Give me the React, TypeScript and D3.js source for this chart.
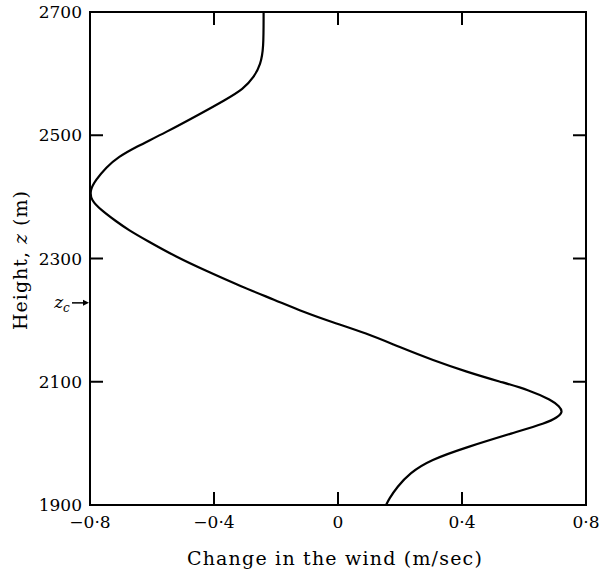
import React from "react";
import * as d3 from "d3";

const heights = [2700, 2640, 2615, 2595, 2575, 2557, 2536, 2504, 2481, 2465, 2448, 2427, 2411, 2395, 2379, 2360, 2346, 2330, 2302, 2281, 2254, 2233, 2213, 2197, 2179, 2156, 2135, 2116, 2100, 2087, 2070, 2060, 2051, 2042, 2033, 2017, 1994, 1973, 1952, 1929, 1910, 1900];
const windChange = [-0.24, -0.24, -0.25, -0.27, -0.305, -0.365, -0.44, -0.558, -0.652, -0.708, -0.748, -0.782, -0.8, -0.797, -0.765, -0.715, -0.675, -0.62, -0.52, -0.43, -0.31, -0.205, -0.11, -0.02, 0.09, 0.2, 0.306, 0.416, 0.523, 0.615, 0.69, 0.714, 0.726, 0.707, 0.672, 0.565, 0.416, 0.297, 0.232, 0.19, 0.165, 0.155];
const xTicks = [-0.8, -0.4, 0, 0.4, 0.8];
const xTickLabels = ["\u22120\u00b78", "\u22120\u00b74", "0", "0\u00b74", "0\u00b78"];
const yTicks = [1900, 2100, 2300, 2500, 2700];
const yTickLabels = ["1900", "2100", "2300", "2500", "2700"];
const zc = 2228;

export default function App() {
  const W = 600, H = 572;
  const left = 90, right = 586, top = 12, bottom = 505;
  const x = d3.scaleLinear().domain([-0.8, 0.8]).range([left, right]);
  const y = d3.scaleLinear().domain([1900, 2700]).range([bottom, top]);
  const pts = heights.map((h, i) => [windChange[i], h] as [number, number]);
  const line = d3.line<[number, number]>().x(d => x(d[0])).y(d => y(d[1])).curve(d3.curveBasis);
  const font = "'DejaVu Serif', serif";
  const tl = 13;
  const inner = (v: number) => v > -0.8 && v < 0.8;
  return (
    <svg width={W} height={H} style={{ position: "absolute", left: 0, top: 0, background: "#fff" }} fontFamily={font}>
      <rect x={left} y={top} width={right - left} height={bottom - top} fill="none" stroke="#000" strokeWidth={2} />
      {xTicks.filter(inner).map(v => (
        <g key={"xt" + v}>
          <line x1={x(v)} x2={x(v)} y1={bottom} y2={bottom - tl} stroke="#000" strokeWidth={2} />
          <line x1={x(v)} x2={x(v)} y1={top} y2={top + tl} stroke="#000" strokeWidth={2} />
        </g>
      ))}
      {yTicks.filter(v => v > 1900 && v < 2700).map(v => (
        <g key={"yt" + v}>
          <line x1={left} x2={left + tl} y1={y(v)} y2={y(v)} stroke="#000" strokeWidth={2} />
          <line x1={right} x2={right - tl} y1={y(v)} y2={y(v)} stroke="#000" strokeWidth={2} />
        </g>
      ))}
      {xTicks.map((v, i) => (
        <text key={"xl" + v} x={x(v)} y={528} textAnchor="middle" fontSize={17}>{xTickLabels[i]}</text>
      ))}
      {yTicks.map((v, i) => (
        <text key={"yl" + v} x={82} y={y(v)} dy="0.36em" textAnchor="end" fontSize={17}>{yTickLabels[i]}</text>
      ))}
      <path d={line(pts) || ""} fill="none" stroke="#000" strokeWidth={2.2} />
      <text x={62} y={y(zc)} dy="0.3em" textAnchor="middle" fontSize={17} fontStyle="italic">z<tspan fontSize={12} dy="4">c</tspan></text>
      <line x1={72} x2={86} y1={y(zc)} y2={y(zc)} stroke="#000" strokeWidth={1.5} />
      <path d={`M${89},${y(zc)} l-6,-3 l0,6 z`} fill="#000" />
      <text x={335} y={565} textAnchor="middle" fontSize={19} letterSpacing={1.2}>Change in the wind (m/sec)</text>
      <text transform={`translate(27,260) rotate(-90)`} textAnchor="middle" fontSize={19} letterSpacing={1}>Height, <tspan fontStyle="italic">z</tspan> (m)</text>
    </svg>
  );
}
